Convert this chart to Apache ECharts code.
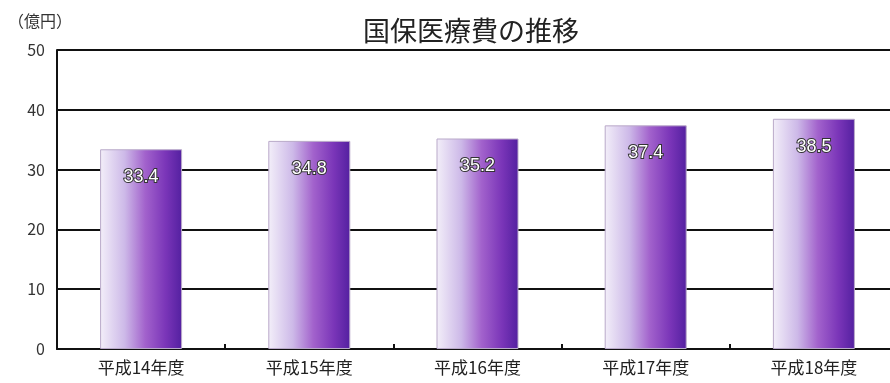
<!DOCTYPE html>
<html><head><meta charset="utf-8">
<script src="https://cdn.jsdelivr.net/npm/echarts@6/dist/echarts.min.js"></script>
<style>html,body{margin:0;padding:0;background:#fff;overflow:hidden}#c{width:900px;height:383px}</style>
</head><body><div id="c"></div>
<script>
const categories = ['平成14年度','平成15年度','平成16年度','平成17年度','平成18年度'];
const values = [33.4, 34.8, 35.2, 37.4, 38.5];
const yTicks = [0, 10, 20, 30, 40, 50];
const titleText = '国保医療費の推移';
const unitText = '（億円）';

const chart = echarts.init(document.getElementById('c'), null, {renderer:'canvas'});
const font = '"Noto Sans CJK JP", "Noto Sans", sans-serif';
chart.setOption({
  animation: false,
  backgroundColor: '#fff',
  title: {
    text: titleText, left: 466, top: 12, textAlign: 'center',
    textStyle: {fontFamily: font, fontSize: 27, fontWeight: 'normal', color: '#222'}
  },
  graphic: [{
    type: 'text', left: 8, top: 13,
    style: {text: unitText, font: '16px ' + font, fill: '#333'}
  }],
  grid: {left: 57, width: 841, top: 50, bottom: 34, containLabel: false},
  xAxis: {
    type: 'category', data: categories,
    axisLine: {lineStyle: {color: '#111', width: 2}},
    axisTick: {show: true, inside: true, length: 5, lineStyle: {color: '#111', width: 2}},
    axisLabel: {fontFamily: font, fontSize: 17, color: '#222', margin: 10}
  },
  yAxis: {
    type: 'value', min: yTicks[0], max: yTicks[yTicks.length-1], interval: 10,
    axisLine: {show: true, lineStyle: {color: '#111', width: 2}},
    axisTick: {show: false},
    axisLabel: {fontFamily: font, fontSize: 16, color: '#333', margin: 12},
    splitLine: {lineStyle: {color: '#111', width: 2}}
  },
  series: [{
    type: 'bar', data: values, barWidth: 82,
    itemStyle: {
      borderColor: '#b9a9c9', borderWidth: 1,
      color: new echarts.graphic.LinearGradient(0, 0, 1, 0, [
        {offset: 0, color: '#f3eff9'},
        {offset: 0.3, color: '#cdb9e8'},
        {offset: 0.55, color: '#a262cc'},
        {offset: 0.8, color: '#7a35b8'},
        {offset: 1, color: '#5320a0'}
      ])
    },
    label: {
      show: true, position: 'insideTop', distance: 19,
      fontFamily: 'Liberation Sans, sans-serif', fontSize: 18,
      color: '#fff', textBorderColor: '#333', textBorderWidth: 2,
      formatter: p => p.value.toFixed(1)
    }
  }]
});
</script></body></html>
